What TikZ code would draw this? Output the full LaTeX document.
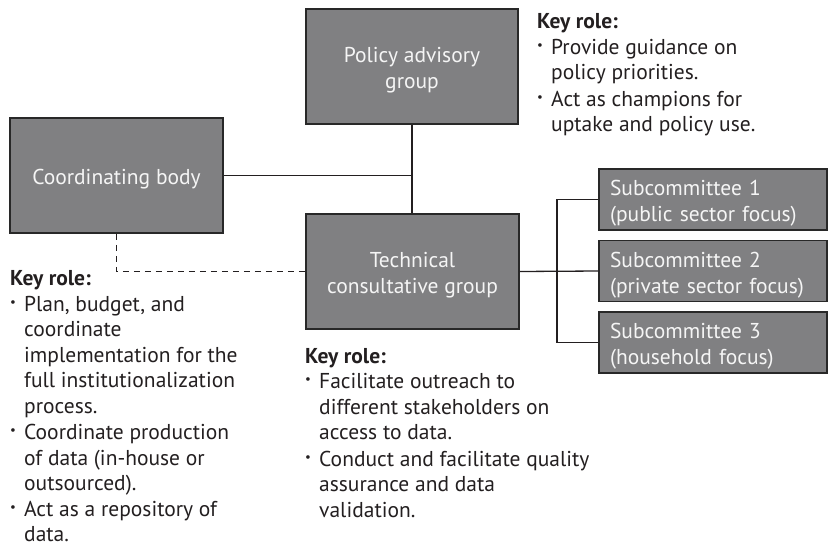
\documentclass[tikz,border=0pt]{standalone}
\usepackage{fontspec}
\setmainfont{PT Sans}
\usepackage{graphicx}
\definecolor{boxfill}{RGB}{128,128,130}
\definecolor{boxline}{RGB}{40,40,40}
\definecolor{txtdark}{RGB}{35,31,32}
\definecolor{txtlight}{RGB}{245,245,245}
\newcommand{\bul}{\makebox[14pt][l]{\raisebox{5pt}{\scalebox{0.6}{\textbullet}}}}
\newcommand{\ind}{\hspace*{14pt}}
\newcommand{\sttop}{\rule{0pt}{23pt}}
\newcommand{\stbot}{\rule[-5pt]{0pt}{5pt}}
\tikzset{
  unitbox/.style={draw=boxline, line width=1.5pt, fill=boxfill, text=txtlight,
    font=\fontsize{21.5}{26}\selectfont, align=center, inner sep=0pt},
  subbox/.style={unitbox, align=left, text width=206pt, inner xsep=11pt,
    minimum height=61pt},
  keytext/.style={font=\fontsize{21.5}{25.5}\selectfont, align=left, inner sep=0pt,
    text=txtdark, anchor=north west},
  conn/.style={draw=txtdark, line width=1.3pt},
  dconn/.style={conn, dash pattern=on 6.5pt off 4.5pt}
}
\begin{document}
\begin{tikzpicture}[x=1pt, y=-1pt]
\useasboundingbox (0,0) rectangle (829,546);
% boxes
\node[unitbox, minimum width=213pt, minimum height=115pt] (coord) at (116.5,175.5) {\sttop Coordinating body\stbot};
\node[unitbox, minimum width=212pt, minimum height=115pt] (policy) at (412,66.5) {\sttop Policy advisory\\group\stbot};
\node[unitbox, minimum width=213pt, minimum height=115pt] (tech) at (412.5,271.5) {\sttop Technical\\consultative group\stbot};
\node[subbox] (sub1) at (713,199.5) {\sttop Subcommittee 1\\(public sector focus)\stbot};
\node[subbox] (sub2) at (713,271) {\sttop Subcommittee 2\\(private sector focus)\stbot};
\node[subbox] (sub3) at (713,342.5) {\sttop Subcommittee 3\\(household focus)\stbot};
\coordinate (jn) at (557,271);
% connectors
\draw[conn] (policy.south) -- (policy.south |- tech.north);
\draw[conn] (coord.east) -- (coord.east -| policy.south);
\draw[dconn] (coord.south) |- (tech.west);
\draw[conn] (tech.east) -- (sub2.west);
\draw[conn] (sub1.west) -| (jn) |- (sub3.west);
% key role texts
\node[keytext] (krpolicy) at (537,13.5) {\textbf{Key role:}\\
\bul Provide guidance on\\
\ind policy priorities.\\[1pt]
\bul Act as champions for\\
\ind uptake and policy use.};
\node[keytext] (krcoord) at (10,270.5) {\textbf{Key role:}\\
\bul Plan, budget, and\\
\ind coordinate\\
\ind implementation for the\\
\ind full institutionalization\\
\ind process.\\[1pt]
\bul Coordinate production\\
\ind of data (in-house or\\
\ind outsourced).\\
\bul Act as a repository of\\
\ind data.};
\node[keytext] (krtech) at (305,348) {\textbf{Key role:}\\
\bul Facilitate outreach to\\
\ind different stakeholders on\\
\ind access to data.\\[1pt]
\bul Conduct and facilitate quality\\
\ind assurance and data\\
\ind validation.};
\end{tikzpicture}
\end{document}
